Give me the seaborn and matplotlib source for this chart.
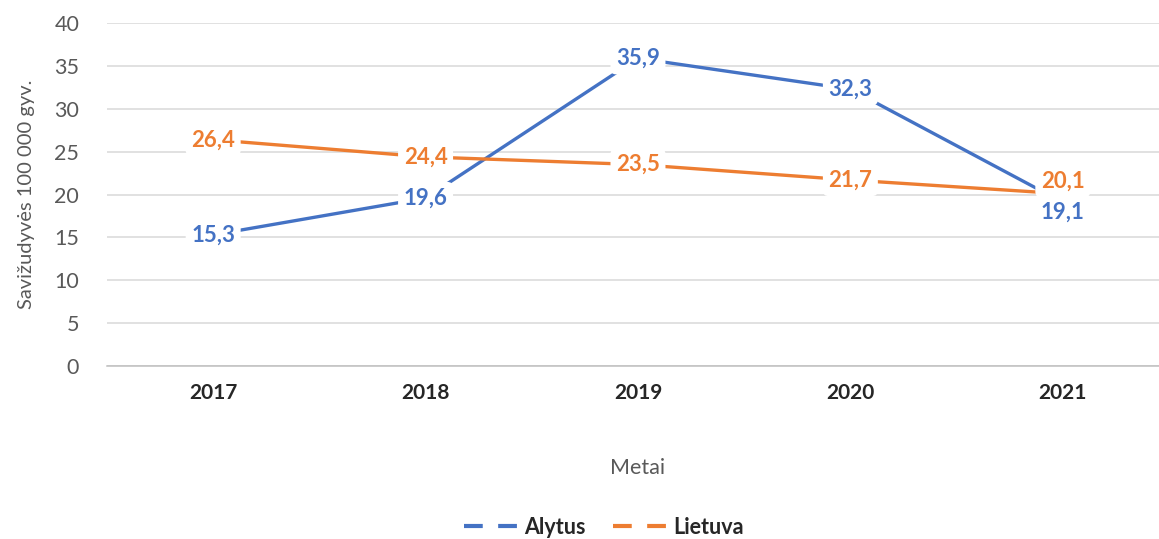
#%% Moduliai
import pandas as pd
import numpy as np
import matplotlib.pyplot as plt
import seaborn as sb
from matplotlib.lines import Line2D

#%% Duomenys
metai = ['2017', '2018', '2019', '2020', '2021']
alytus = [15.3, 19.6, 35.9, 32.3, 19.1]
lietuva = [26.4, 24.4, 23.5, 21.7, 20.1]
serijos = ['Alytus', 'Lietuva']
spalvos = ['#4472C4', '#ED7D31']

df = pd.DataFrame({
    'Metai': metai * 2,
    'reiksme': alytus + lietuva,
    'serija': ['Alytus'] * len(metai) + ['Lietuva'] * len(metai),
})

#%% Grafikas
sb.set_style('white')
plt.rcParams['font.family'] = ['Lato', 'DejaVu Sans']

fig = plt.figure(figsize=(11.59, 5.39), dpi=100)
ax = fig.add_axes([0.0923, 0.321, 0.9163, 0.636])

sb.lineplot(data=df, x='Metai', y='reiksme', hue='serija',
            palette=spalvos, linewidth=2.4, ax=ax, legend=False,
            sort=False)

ax.set_xlim(-0.5, 4.5)
ax.set_ylim(0, 40)
ax.set_yticks(np.arange(0, 41, 5))
ax.grid(axis='y', color='#D9D9D9', linewidth=1.1)
ax.set_axisbelow(True)
for s in ['top', 'right', 'left']:
    ax.spines[s].set_visible(False)
ax.spines['bottom'].set_color('#BFBFBF')
ax.spines['bottom'].set_linewidth(1.1)

ax.tick_params(axis='y', length=0, labelsize=15.5, labelcolor='#595959', pad=20)
ax.tick_params(axis='x', length=0, labelsize=15, pad=12)
for t in ax.get_xticklabels():
    t.set_fontweight('bold')
# tarpines zymes tarp kategoriju
ax.set_xticks(np.arange(-0.5, 4.6, 1), minor=True)
ax.tick_params(axis='x', which='minor', length=7, color='#BFBFBF', width=1.1)

ax.set_ylabel('Savižudyvės 100 000 gyv.', fontsize=14.5, color='#595959', labelpad=14)
ax.set_xlabel('Metai', fontsize=15.5, color='#595959', labelpad=40)

#%% Duomenu etiketes
poslinkis = {('Alytus', 4): -7, ('Lietuva', 4): 9}
for serija, reiksmes, sp in zip(serijos, [alytus, lietuva], spalvos):
    for i, v in enumerate(reiksmes):
        dy = poslinkis.get((serija, i), 0)
        ax.annotate(f'{v:.1f}'.replace('.', ','), (i, v),
                    xytext=(0, dy), textcoords='offset points',
                    ha='center', va='center', fontsize=16,
                    fontweight='bold', color=sp, zorder=5,
                    bbox=dict(facecolor='white', edgecolor='none',
                              boxstyle='round,pad=0.25'))

#%% Legenda
rankenos = [Line2D([0], [0], color=sp, lw=3, linestyle=(0, (4.5, 3.7)))
            for sp in spalvos]
leg = fig.legend(rankenos, serijos, loc='center', bbox_to_anchor=(0.521, 0.022),
                 ncol=2, frameon=False, handlelength=2.7, columnspacing=1.3,
                 handletextpad=0.1, prop={'size': 15.5, 'weight': 'bold'})

fig.savefig('out.png', dpi=100)
